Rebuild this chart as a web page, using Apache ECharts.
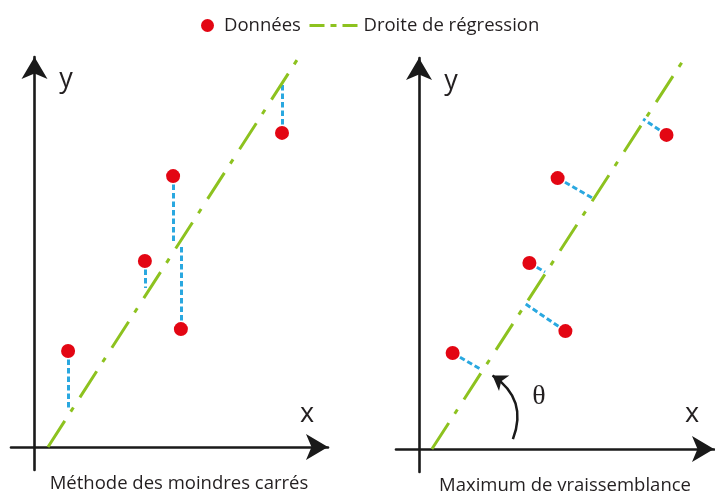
<!DOCTYPE html>
<html>
<head>
<meta charset="utf-8">
<script src="https://cdn.jsdelivr.net/npm/echarts@6/dist/echarts.min.js"></script>
<style>
  html, body { margin: 0; padding: 0; background: #ffffff; }
  #chart { width: 715px; height: 497px; }
</style>
</head>
<body>
<div id="chart"></div>
<script>
// Observations (same sample shown in both panels)
const pointX = [1.12, 3.68, 4.62, 4.88, 8.25];
const pointY = [3.2, 6.2, 9.03, 3.93, 10.47];

// Least squares: fitted line endpoints and vertical residual feet
const lsLineX = [0.45, 8.75];
const lsLineY = [0, 12.9];
const lsFootY = [1.23, 5.3, 6.8, 6.73, 12.07];

// Maximum likelihood: fitted line endpoints and orthogonal projection feet
const mlLineX = [0.43, 8.77];
const mlLineY = [0, 12.9];
const mlFootX = [2.1, 4.2, 5.77, 3.5, 7.47];
const mlFootY = [2.63, 5.9, 8.37, 4.87, 11.0];

// Angle arrow (theta) between the x axis and the fitted line
const thetaX = [3.13, 2.45];
const thetaY = [0.33, 2.45];

const seriesNames = ['Données', 'Droite de régression'];
const captions = ['Méthode des moindres carrés', 'Maximum de vraissemblance'];

const RED = '#e30613';
const GREEN = '#8dc21f';
const BLUE = '#2aa8e0';
const INK = '#1a1a1a';
const TEXT = '#231f20';
const FONT = '"Open Sans", "Noto Sans", sans-serif';

const zip = (xs, ys) => xs.map((x, i) => [x, ys[i]]);

function axis(gridIndex, min, max) {
  return {
    gridIndex, type: 'value', min, max,
    axisLine: {
      show: true, onZero: true,
      symbol: ['none', 'arrow'], symbolSize: [19.5, 22],
      lineStyle: { color: INK, width: 2.6 }
    },
    axisTick: { show: false },
    axisLabel: { show: false },
    splitLine: { show: false }
  };
}

function panelSeries(idx, lineX, lineY, residuals) {
  return [
    {
      type: 'lines', coordinateSystem: 'cartesian2d',
      xAxisIndex: idx, yAxisIndex: idx, z: 1, silent: true,
      lineStyle: { color: BLUE, width: 3, type: [5.5, 3], opacity: 1 },
      data: residuals
    },
    {
      type: 'line', name: seriesNames[1],
      xAxisIndex: idx, yAxisIndex: idx, z: 2, silent: true,
      symbol: 'none',
      itemStyle: { color: GREEN },
      lineStyle: { color: GREEN, width: 3, type: [31, 11, 5, 12] },
      data: zip(lineX, lineY)
    },
    {
      type: 'scatter', name: seriesNames[0],
      xAxisIndex: idx, yAxisIndex: idx, z: 3, silent: true,
      symbolSize: 14,
      itemStyle: { color: RED, opacity: 1 },
      data: zip(pointX, pointY)
    }
  ];
}

const lsResiduals = pointX.map((x, i) => ({ coords: [[x, pointY[i]], [x, lsFootY[i]]] }));
const mlResiduals = pointX.map((x, i) => ({ coords: [[x, pointY[i]], [mlFootX[i], mlFootY[i]]] }));

const chart = echarts.init(document.getElementById('chart'), null, { renderer: 'canvas' });

const textStyle = (size, family) => ({ fill: TEXT, font: size + 'px ' + (family || FONT) });

chart.setOption({
  animation: false,
  backgroundColor: '#ffffff',
  legend: [
    {
      data: [{ name: seriesNames[0], icon: 'circle' }],
      left: 201, top: 16, padding: 0, itemWidth: 13, itemHeight: 13,
      selectedMode: false,
      itemStyle: { opacity: 1 },
      textStyle: { fontFamily: FONT, fontSize: 18.5, color: TEXT, padding: [0, 0, 0, 5] }
    },
    {
      data: [{ name: seriesNames[1] }],
      left: 308, top: 16, padding: 0, itemWidth: 49, itemHeight: 13,
      selectedMode: false,
      lineStyle: { type: [15, 6, 6, 6], width: 3, color: GREEN },
      itemStyle: { color: 'rgba(0,0,0,0)', borderWidth: 0, opacity: 0 },
      textStyle: { fontFamily: FONT, fontSize: 18.5, color: TEXT }
    }
  ],
  grid: [
    { left: 11, top: 57, width: 317, height: 413, outerBoundsMode: 'none' },
    { left: 396, top: 58, width: 318, height: 414, outerBoundsMode: 'none' }
  ],
  xAxis: [axis(0, -0.783, 9.783), axis(1, -0.767, 9.833)],
  yAxis: [axis(0, -0.767, 13.0), axis(1, -0.767, 13.033)],
  series: [
    ...panelSeries(0, lsLineX, lsLineY, lsResiduals),
    ...panelSeries(1, mlLineX, mlLineY, mlResiduals),
    {
      type: 'lines', coordinateSystem: 'cartesian2d',
      xAxisIndex: 1, yAxisIndex: 1, z: 4, silent: true,
      symbol: ['none', 'arrow'], symbolSize: [11, 14],
      lineStyle: { color: INK, width: 2.5, curveness: -0.4, opacity: 1 },
      data: [{ coords: zip(thetaX, thetaY) }]
    }
  ],
  graphic: [
    { type: 'text', x: 66, y: 79, style: Object.assign({ text: 'y', align: 'center', verticalAlign: 'middle' }, textStyle(27)) },
    { type: 'text', x: 307, y: 414, style: Object.assign({ text: 'x', align: 'center', verticalAlign: 'middle' }, textStyle(27)) },
    { type: 'text', x: 451, y: 81, style: Object.assign({ text: 'y', align: 'center', verticalAlign: 'middle' }, textStyle(27)) },
    { type: 'text', x: 692, y: 414, style: Object.assign({ text: 'x', align: 'center', verticalAlign: 'middle' }, textStyle(27)) },
    { type: 'text', x: 539, y: 397, style: Object.assign({ text: 'θ', align: 'center', verticalAlign: 'middle' }, textStyle(28, '"Liberation Serif", "DejaVu Serif", serif')) },
    { type: 'text', x: 179, y: 484, style: Object.assign({ text: captions[0], align: 'center', verticalAlign: 'middle' }, textStyle(18.5)) },
    { type: 'text', x: 565, y: 486, style: Object.assign({ text: captions[1], align: 'center', verticalAlign: 'middle' }, textStyle(18.5)) }
  ]
});
</script>
</body>
</html>
